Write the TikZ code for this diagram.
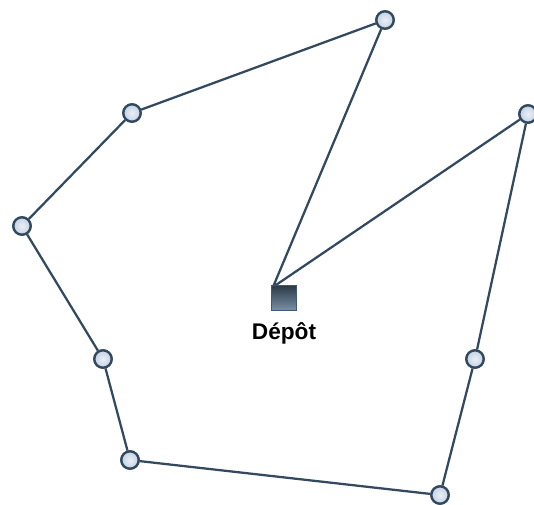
\documentclass[tikz,border=0pt]{standalone}
\usepackage{fontspec}
\setmainfont{Liberation Sans}
\definecolor{edgec}{HTML}{33495F}
\definecolor{nodefill}{HTML}{C4D2E4}
\definecolor{depdark}{HTML}{2C3A48}
\definecolor{deplight}{HTML}{7890A8}
\definecolor{depborder}{HTML}{3E5A78}
\begin{document}
\begin{tikzpicture}[x=0.75pt,y=-0.75pt,
  client/.style={circle,draw=edgec,line width=1.7pt,inner sep=0pt,minimum size=13pt,inner color=white!65!nodefill,outer color=nodefill},
  depot/.style={rectangle,draw=depborder,line width=1.2pt,inner sep=0pt,minimum size=18.5pt,top color=depdark,bottom color=deplight},
  route/.style={draw=edgec,line width=1.7pt},
  deplabel/.style={font=\bfseries\fontsize{17}{19}\selectfont}]
\useasboundingbox (0,0) rectangle (534,504);
\node[depot] (d) at (284,298) {};
\coordinate (dc) at (273,287);
\node[deplabel] (lab) at (284,333) {Dépôt};
\node[client] (a) at (385,20) {};
\node[client] (b) at (132,113) {};
\node[client] (c) at (22,226) {};
\node[client] (e) at (103,359) {};
\node[client] (f) at (130,460) {};
\node[client] (g) at (440,495) {};
\node[client] (h) at (475,359) {};
\node[client] (i) at (528,114) {};
\draw[route] (dc) -- (a) -- (b) -- (c) -- (e) -- (f) -- (g) -- (h) -- (i) -- (dc);
\foreach \n in {a,b,c,e,f,g,h,i} \node[client] at (\n) {};
\node[depot] at (d) {};
\end{tikzpicture}
\end{document}
